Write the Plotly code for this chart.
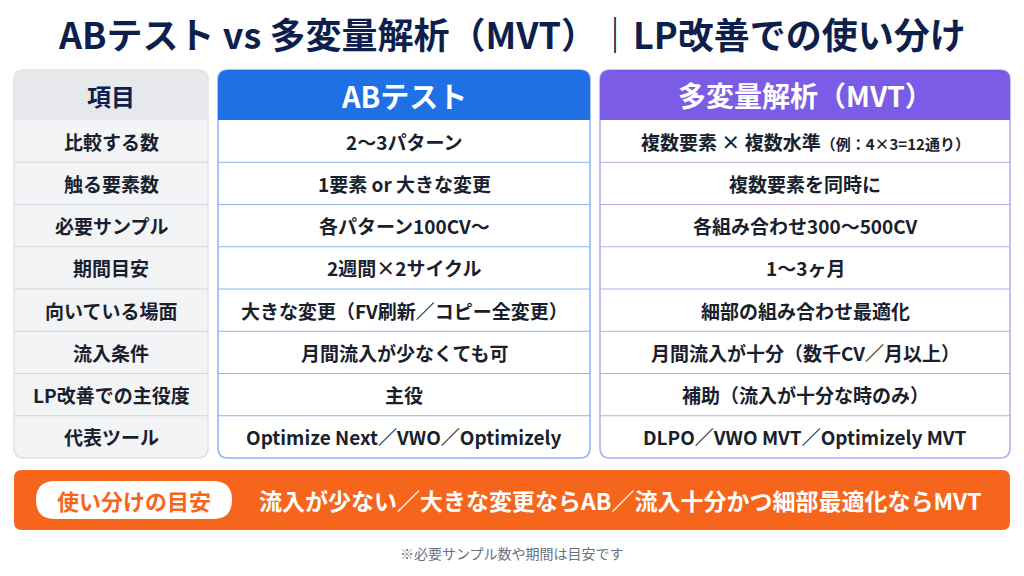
import plotly.graph_objects as go

title = "ABテスト vs 多変量解析（MVT）｜LP改善での使い分け"
headers = ["項目", "ABテスト", "多変量解析（MVT）"]
items = ["比較する数", "触る要素数", "必要サンプル", "期間目安", "向いている場面", "流入条件", "LP改善での主役度", "代表ツール"]
ab = ["2〜3パターン", "1要素 or 大きな変更", "各パターン100CV〜", "2週間×2サイクル",
      "大きな変更（FV刷新／コピー全変更）", "月間流入が少なくても可", "主役", "Optimize Next／VWO／Optimizely"]
mvt = ["複数要素 × 複数水準<span style='font-size:15px'>（例：4×3=12通り）</span>", "複数要素を同時に", "各組み合わせ300〜500CV", "1〜3ヶ月",
       "細部の組み合わせ最適化", "月間流入が十分（数千CV／月以上）", "補助（流入が十分な時のみ）", "DLPO／VWO MVT／Optimizely MVT"]
banner_label = "使い分けの目安"
banner_text = "流入が少ない／大きな変更ならAB／流入十分かつ細部最適化ならMVT"
note = "※必要サンプル数や期間は目安です"

FONT = "Noto Sans CJK JP"
NAVY = "#0f1f4d"
BLUE = "#1f6fe5"
PURPLE = "#7b5ce6"
ORANGE = "#f6651c"

def rr(x0, y0, x1, y1, r, fill, line=None, lw=0):
    p = (f"M{x0+r},{y0} L{x1-r},{y0} Q{x1},{y0} {x1},{y0+r} L{x1},{y1-r} Q{x1},{y1} {x1-r},{y1} "
         f"L{x0+r},{y1} Q{x0},{y1} {x0},{y1-r} L{x0},{y0+r} Q{x0},{y0} {x0+r},{y0} Z")
    return dict(type="path", path=p, fillcolor=fill, line=dict(color=line or fill, width=lw), layer="below")

def top_rr(x0, y0, x1, y1, r, fill):
    p = (f"M{x0},{y1} L{x0},{y0+r} Q{x0},{y0} {x0+r},{y0} L{x1-r},{y0} Q{x1},{y0} {x1},{y0+r} L{x1},{y1} Z")
    return dict(type="path", path=p, fillcolor=fill, line=dict(width=0), layer="below")

cols = [(14, 208), (218, 590), (600, 1010)]
colors = ["#e6e8ec", BLUE, PURPLE]
lines = ["#d3d6dc", "#8fb3f0", "#b9a8f0"]
y_top, y_head, y_bot = 70, 120, 458
rowh = (y_bot - y_head) / len(items)

shapes, ann = [], []
for i, (x0, x1) in enumerate(cols):
    body = "#f3f4f6" if i == 0 else "white"
    shapes.append(rr(x0, y_top, x1, y_bot, 10, body, lines[i] if i else "#dfe1e5", 1.5))
    shapes.append(top_rr(x0, y_top, x1, y_head, 10, colors[i]))
    for k in range(1, len(items)):
        y = y_head + k * rowh
        shapes.append(dict(type="line", x0=x0, x1=x1, y0=y, y1=y, line=dict(color=lines[i], width=1)))
    ann.append(dict(x=(x0+x1)/2, y=(y_top+y_head)/2, text=f"<b>{headers[i]}</b>", showarrow=False,
                    font=dict(family=FONT, size=24 if i == 0 else (29 if i == 1 else 28),
                              color=NAVY if i == 0 else "white")))
    vals = [items, ab, mvt][i]
    for k, v in enumerate(vals):
        ann.append(dict(x=(x0+x1)/2, y=y_head + (k+0.5)*rowh, text=f"<b>{v}</b>", showarrow=False,
                        font=dict(family=FONT, size=19, color="#1a1f2e")))

shapes.append(rr(14, 470, 1010, 530, 8, ORANGE))
shapes.append(rr(36, 481, 232, 519, 19, "white"))
ann.append(dict(x=134, y=500, text=f"<b>{banner_label}</b>", showarrow=False,
                font=dict(family=FONT, size=22, color=ORANGE)))
ann.append(dict(x=620, y=500, text=f"<b>{banner_text}</b>", showarrow=False,
                font=dict(family=FONT, size=23, color="white")))
ann.append(dict(x=512, y=553, text=note, showarrow=False, font=dict(family=FONT, size=14, color="#6b7080")))
ann.append(dict(x=512, y=33, text=f"<b>{title}</b>", showarrow=False, font=dict(family=FONT, size=36, color=NAVY)))

fig = go.Figure()
fig.update_layout(width=1024, height=576, margin=dict(l=0, r=0, t=0, b=0),
                  paper_bgcolor="white", plot_bgcolor="white", shapes=shapes, annotations=ann,
                  xaxis=dict(range=[8, 1032], visible=False, fixedrange=True),
                  yaxis=dict(range=[584, 8], visible=False, fixedrange=True), showlegend=False)
fig.write_html("out.html", config={"displayModeBar": False})
